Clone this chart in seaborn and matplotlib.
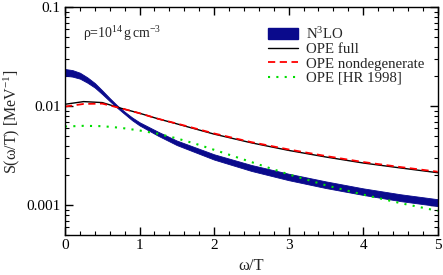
import matplotlib
matplotlib.use("Agg")
import matplotlib.pyplot as plt
import seaborn as sns
import pandas as pd
from matplotlib.ticker import MultipleLocator, LogLocator, NullFormatter, FixedLocator, FixedFormatter
from matplotlib.patches import Patch
from matplotlib.lines import Line2D

# ---- data ----
band_x = [0, 0.1, 0.2, 0.3, 0.4, 0.5, 0.6, 0.7, 0.8, 0.9, 1.0, 1.25, 1.5, 2.0, 2.5, 3.0, 3.5, 4.0, 4.5, 5.0]
band_lo = [0.02034, 0.01992, 0.01900, 0.01730, 0.01543, 0.01324, 0.01127, 0.00965, 0.00834, 0.00722,
           0.00640, 0.00503, 0.00405, 0.00289, 0.00222, 0.00179, 0.00149, 0.00127, 0.00110, 0.00098]
band_hi = [0.02379, 0.02319, 0.02182, 0.01959, 0.01716, 0.01445, 0.01208, 0.01020, 0.00881, 0.00771,
           0.00689, 0.00552, 0.00450, 0.00327, 0.00255, 0.00208, 0.00174, 0.00148, 0.00129, 0.00115]

line_x = [0, 0.25, 0.5, 0.75, 1.0, 1.25, 1.5, 2.0, 2.5, 3.0, 3.5, 4.0, 4.5, 5.0]
ope_full = [0.01047, 0.01114, 0.01089, 0.00955, 0.00850, 0.00746, 0.00664, 0.00523, 0.00427,
            0.00358, 0.00307, 0.00267, 0.00238, 0.00213]
ope_nondeg = [0.00992, 0.01055, 0.01063, 0.00955, 0.00850, 0.00746, 0.00669, 0.00531, 0.00434,
              0.00366, 0.00314, 0.00273, 0.00243, 0.00218]

hr_x = [0, 0.25, 0.5, 0.75, 1.0, 1.25, 1.5, 1.75, 2.0, 2.5, 3.0, 3.5, 4.0, 4.5, 5.0]
ope_hr = [0.00624, 0.00634, 0.00629, 0.00605, 0.00569, 0.00527, 0.00473, 0.00418, 0.00363,
          0.00273, 0.00205, 0.00159, 0.00128, 0.00105, 0.000877]

labels = ["N$^3$LO", "OPE full", "OPE nondegenerate", "OPE [HR 1998]"]
x_ticks = [0, 1, 2, 3, 4, 5]
y_ticks = [0.001, 0.01, 0.1]
y_ticklabels = ["0.001", "0.01", "0.1"]

# ---- style ----
sns.set_style("ticks")
plt.rcParams["font.family"] = ["Liberation Serif", "DejaVu Serif"]
plt.rcParams["mathtext.fontset"] = "custom"
plt.rcParams["mathtext.rm"] = "Liberation Serif"
plt.rcParams["mathtext.it"] = "Liberation Serif:italic"
plt.rcParams["mathtext.bf"] = "Liberation Serif:bold"

fig = plt.figure(figsize=(4.43, 2.75), dpi=100)
ax = fig.add_axes([0.1467, 0.1455, 0.8413, 0.828])

navy = "#0a0a8c"
ax.fill_between(band_x, band_lo, band_hi, color=navy, lw=0.6, edgecolor=navy)

df_full = pd.DataFrame({"x": line_x, "y": ope_full})
df_nd = pd.DataFrame({"x": line_x, "y": ope_nondeg})
df_hr = pd.DataFrame({"x": hr_x, "y": ope_hr})
sns.lineplot(data=df_full, x="x", y="y", ax=ax, color="black", lw=1.0)
sns.lineplot(data=df_nd, x="x", y="y", ax=ax, color="#ff0000", lw=1.3, linestyle=(0, (4, 2.5)))
sns.lineplot(data=df_hr, x="x", y="y", ax=ax, color="#00dd00", lw=1.5, linestyle=(0, (1, 3)))

ax.set_yscale("log")
ax.set_xlim(0, 5)
ax.set_ylim(0.0005, 0.1)

ax.xaxis.set_major_locator(FixedLocator(x_ticks))
ax.xaxis.set_minor_locator(MultipleLocator(0.2))
ax.yaxis.set_major_locator(FixedLocator(y_ticks))
ax.yaxis.set_major_formatter(FixedFormatter(y_ticklabels))
ax.yaxis.set_minor_locator(LogLocator(base=10, subs=range(2, 10)))
ax.yaxis.set_minor_formatter(NullFormatter())

ax.tick_params(which="both", direction="in", top=True, right=True, labelsize=11, colors="black", pad=3)
ax.tick_params(which="major", length=6, width=1.0)
ax.tick_params(which="minor", length=3, width=0.8)
for s in ax.spines.values():
    s.set_linewidth(1.0)
    s.set_color("black")

ax.set_xlabel("ω/T", fontsize=12, labelpad=4)
ax.set_ylabel("S(ω/T) [MeV$^{-1}$]", fontsize=11.5, labelpad=3)

ax.text(0.047, 0.885, "ρ=10$^{14}\\,$g$\\,$cm$^{-3}$", transform=ax.transAxes, fontsize=10,
        ha="left", va="center")

handles = [
    Patch(facecolor=navy, edgecolor=navy),
    Line2D([], [], color="black", lw=1.0),
    Line2D([], [], color="#ff0000", lw=1.3, linestyle=(0, (4, 2.5))),
    Line2D([], [], color="#00dd00", lw=1.5, linestyle=(0, (1, 3))),
]
leg = ax.legend(handles, labels, loc="upper left", bbox_to_anchor=(0.53, 0.945), frameon=False,
                fontsize=10.7, handlelength=2.0, handletextpad=0.55, labelspacing=0.07, borderaxespad=0)

fig.savefig("out.png", dpi=100)
